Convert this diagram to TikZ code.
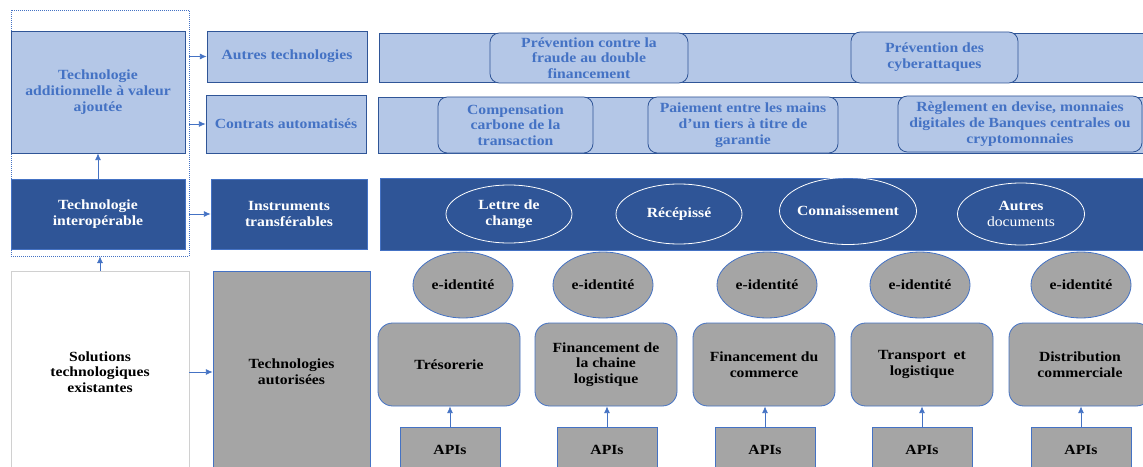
\documentclass[tikz,border=0pt]{standalone}
\usepackage{fontspec}
\setmainfont{Liberation Serif}[FakeStretch=1.12]
\usetikzlibrary{arrows.meta,shapes.geometric}

\definecolor{lightblue}{HTML}{B4C7E7}
\definecolor{midblue}{HTML}{4472C4}
\definecolor{darkblue}{HTML}{2F5597}
\definecolor{boxgray}{HTML}{A5A5A5}
\definecolor{edgegray}{HTML}{D0D0D0}

\begin{document}
\begin{tikzpicture}[x=0.75pt, y=-0.75pt,
    every node/.style={font=\fontsize{10.5}{11.8}\selectfont\bfseries, align=center, inner sep=1pt},
    lightbox/.style={draw=darkblue, fill=lightblue, text=midblue, line width=0.6pt},
    darkbox/.style={draw=midblue, fill=darkblue, text=white, line width=0.6pt},
    greybox/.style={draw=midblue, fill=boxgray, text=black, line width=0.6pt},
    roundbox/.style={lightbox, rounded corners=7pt},
    sectorbox/.style={greybox, rounded corners=11pt},
    docell/.style={ellipse, draw=white, line width=0.6pt, text=white, inner xsep=-4pt, inner ysep=0pt},
    idell/.style={ellipse, draw=midblue, fill=boxgray, line width=0.6pt, text=black, inner xsep=-3pt, inner ysep=0pt},
    link/.style={draw=midblue, line width=0.6pt, -{Latex[length=5pt,width=4.5pt]}},
]

    \clip (0,0) rectangle (1143,467);
    \fill[white] (0,0) rectangle (1143,467);

    %% Left column
    \node[draw=midblue, densely dotted, line width=0.5pt, minimum width=133.5pt, minimum height=184.5pt] (frame) at (100,133) {};
    \node[lightbox, minimum width=130.5pt, minimum height=91.5pt] (addl) at (98,92)
        {Technologie\\additionnelle à valeur\\ajoutée};
    \node[darkbox, minimum width=130.5pt, minimum height=52.5pt] (interop) at (98,214)
        {Technologie\\interopérable};
    \node[draw=edgegray, fill=white, line width=0.6pt, minimum width=133.5pt, minimum height=151.5pt] (solutions) at (100,372)
        {Solutions\\technologiques\\existantes};

    %% Second column
    \node[lightbox, minimum width=120pt, minimum height=38.25pt] (autres) at (287,56.5) {Autres technologies};
    \node[lightbox, minimum width=120pt, minimum height=43.5pt] (contrats) at (286,124) {Contrats automatisés};
    \node[darkbox, minimum width=117pt, minimum height=52.5pt] (instruments) at (289,214)
        {Instruments\\transférables};
    \node[greybox, minimum width=117.75pt, minimum height=151.5pt] (autorisees) at (291.5,372)
        {Technologies\\autorisées};

    %% Bands
    \node[lightbox, minimum width=585.75pt, minimum height=36.75pt] (band1) at (769.5,57.5) {};
    \node[lightbox, minimum width=586.5pt, minimum height=42pt] (band2) at (769,125) {};
    \node[darkbox, minimum width=585pt, minimum height=54pt] (band3) at (770,214) {};

    \node[roundbox, minimum width=148.5pt, minimum height=37.5pt] (fraude) at (589,58)
        {Prévention contre la\\fraude au double\\financement};
    \node[roundbox, minimum width=125.25pt, minimum height=38.25pt] (cyber) at (934.5,57.5)
        {Prévention des\\cyberattaques};

    \node[roundbox, minimum width=116.25pt, minimum height=42pt] (carbone) at (515.5,125)
        {Compensation\\carbone de la\\transaction};
    \node[roundbox, minimum width=142.5pt, minimum height=42pt] (paiement) at (743,125)
        {Paiement entre les mains\\d’un tiers à titre de\\garantie};
    \node[roundbox, minimum width=183pt, minimum height=42pt] (reglement) at (1020,124)
        {Règlement en devise, monnaies\\digitales de Banques centrales ou\\cryptomonnaies};

    \node[docell, minimum width=94.5pt, minimum height=43.5pt] (lettre) at (509,214) {Lettre de\\change};
    \node[docell, minimum width=94.5pt, minimum height=45pt] (recepisse) at (679,214) {Récépissé};
    \node[docell, minimum width=102.75pt, minimum height=50.25pt] (connaissement) at (848,211) {Connaissement};
    \node[docell, minimum width=95.25pt, minimum height=46.5pt] (autresdoc) at (1021,214)
        {Autres\\{\mdseries documents}};

    %% Sectors
    \node[idell, minimum width=75pt, minimum height=49.5pt] (id1) at (463,285) {e-identité};
    \node[idell, minimum width=75pt, minimum height=49.5pt] (id2) at (603,285) {e-identité};
    \node[idell, minimum width=75pt, minimum height=49.5pt] (id3) at (767,285) {e-identité};
    \node[idell, minimum width=75pt, minimum height=49.5pt] (id4) at (920,285) {e-identité};
    \node[idell, minimum width=75pt, minimum height=49.5pt] (id5) at (1081,285) {e-identité};

    \node[sectorbox, minimum width=106.5pt, minimum height=62.25pt] (sec1) at (449,364.5) {Trésorerie};
    \node[sectorbox, minimum width=106.5pt, minimum height=62.25pt] (sec2) at (606,364.5)
        {Financement de\\la chaine\\logistique};
    \node[sectorbox, minimum width=106.5pt, minimum height=62.25pt] (sec3) at (764,364.5)
        {Financement du\\commerce};
    \node[sectorbox, minimum width=106.5pt, minimum height=62.25pt] (sec4) at (922,364.5)
        {Transport\ \ et\\logistique};
    \node[sectorbox, minimum width=106.5pt, minimum height=62.25pt] (sec5) at (1080,364.5)
        {Distribution\\commerciale};

    \node[greybox, minimum width=75pt, minimum height=34.5pt] (api1) at (450,450) {APIs};
    \node[greybox, minimum width=75pt, minimum height=34.5pt] (api2) at (607,450) {APIs};
    \node[greybox, minimum width=75pt, minimum height=34.5pt] (api3) at (765,450) {APIs};
    \node[greybox, minimum width=75pt, minimum height=34.5pt] (api4) at (922,450) {APIs};
    \node[greybox, minimum width=75pt, minimum height=34.5pt] (api5) at (1081,450) {APIs};

    %% Links
    \draw[link] (interop.north) -- (addl.south);
    \draw[link] (solutions.north) -- (frame.south);
    \draw[link] (frame.east |- autres.west) -- (autres.west);
    \draw[link] (frame.east |- contrats.west) -- (contrats.west);
    \draw[link] (frame.east |- instruments.west) -- (instruments.west);
    \draw[link] (solutions.east) -- (autorisees.west);

    \draw[link] (api1.north) -- (api1.north |- sec1.south);
    \draw[link] (api2.north) -- (api2.north |- sec2.south);
    \draw[link] (api3.north) -- (api3.north |- sec3.south);
    \draw[link] (api4.north) -- (api4.north |- sec4.south);
    \draw[link] (api5.north) -- (api5.north |- sec5.south);

\end{tikzpicture}
\end{document}
